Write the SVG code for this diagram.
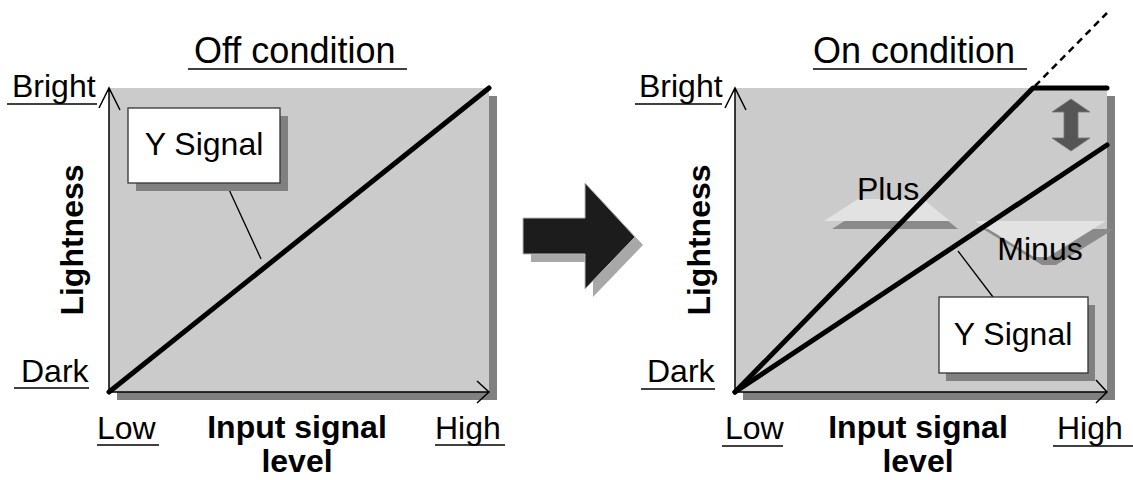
<svg xmlns="http://www.w3.org/2000/svg" width="1133" height="480" viewBox="0 0 1133 480">
<style>
text{font-family:"Liberation Sans",Arial,Helvetica,sans-serif;fill:#000}
.t{font-size:32px}
.ttl{font-size:36px}
.b{font-size:32px;font-weight:bold}
.ul{stroke:#000;stroke-width:1.3;fill:none}
.panel{fill:#cbcbcb}
.pshadow{fill:#808080}
.axis{stroke:#000;stroke-width:1.5;fill:none}
.thick{stroke:#000;stroke-width:5;fill:none;stroke-linecap:round;stroke-linejoin:round}
.lead{stroke:#000;stroke-width:1.3;fill:none}
.box{fill:#fff;stroke:#333;stroke-width:1.3}
.bshadow{fill:#808080}
.light{fill:#e2e2e2}
.dshadow{fill:#8a8a8a}
</style>
<rect width="1133" height="480" fill="#fff"/>

<!-- Left chart -->
<g id="left-chart">
  <rect class="pshadow" x="117" y="96" width="380" height="304"/>
  <rect class="panel" x="109" y="88" width="380" height="304"/>
  <path class="axis" d="M109,392 V89 M99,108 L109,88 L120,110 M109,392 H489 M477,381 L489,392 L477,403"/>
</g>
<g id="left-labels">
  <text class="ttl" x="194" y="63">Off condition</text>
  <line class="ul" x1="188" y1="69" x2="407" y2="69"/>
  <text class="t" x="12" y="97">Bright</text>
  <line class="ul" x1="7" y1="104" x2="97" y2="104"/>
  <text class="t" x="21" y="382">Dark</text>
  <line class="ul" x1="14" y1="388" x2="89" y2="388"/>
  <text class="t" x="97" y="439">Low</text>
  <line class="ul" x1="97" y1="445" x2="159" y2="445"/>
  <text class="t" x="435" y="439">High</text>
  <line class="ul" x1="435" y1="445" x2="505" y2="445"/>
  <text class="b" x="297" y="438" text-anchor="middle">Input signal</text>
  <text class="b" x="297" y="472" text-anchor="middle">level</text>
  <text class="b" transform="translate(83,240) rotate(-90)" text-anchor="middle">Lightness</text>
</g>

<!-- Middle arrow -->
<g id="transition-arrow">
  <polygon points="531,226 593,226 593,191 643,245 593,297 593,262 531,262" fill="#a8a8a8"/>
  <polygon points="523,218 585,218 585,183 635,237 585,289 585,254 523,254" fill="#1c1c1c" stroke="#b8b8b8" stroke-width="1"/>
</g>

<!-- Right chart -->
<g id="right-chart">
  <rect class="pshadow" x="743" y="96" width="372" height="304"/>
  <rect class="panel" x="735" y="88" width="372" height="304"/>
  <path class="axis" d="M735,392 V89 M725,108 L735,88 L746,110 M735,392 H1107 M1096,380 L1107,392 L1096,403"/>
</g>
<g id="right-labels">
  <text class="ttl" x="813" y="63">On condition</text>
  <line class="ul" x1="813" y1="69" x2="1027" y2="69"/>
  <text class="t" x="639" y="97">Bright</text>
  <line class="ul" x1="635" y1="104" x2="722" y2="104"/>
  <text class="t" x="647" y="382">Dark</text>
  <line class="ul" x1="641" y1="389" x2="715" y2="389"/>
  <text class="t" x="725" y="439">Low</text>
  <line class="ul" x1="722" y1="446" x2="783" y2="446"/>
  <text class="t" x="1057" y="439">High</text>
  <line class="ul" x1="1053" y1="446" x2="1133" y2="446"/>
  <text class="b" x="918" y="438" text-anchor="middle">Input signal</text>
  <text class="b" x="918" y="472" text-anchor="middle">level</text>
  <text class="b" transform="translate(710,240) rotate(-90)" text-anchor="middle">Lightness</text>
</g>

<!-- Plus / Minus markers -->
<g id="plus-marker">
  <polygon class="dshadow" points="866,207 931,207 958,229 832,229"/>
  <polygon class="light" points="858,199 923,199 950,221 824,221"/>
</g>
<g id="minus-marker">
  <polygon class="dshadow" points="983,229 1114,229 1056,265 1042,265"/>
  <polygon class="light" points="975,221 1106,221 1048,257 1034,257"/>
</g>

<!-- Curves / connectors -->
<g id="connectors">
  <line class="thick" x1="109" y1="392" x2="489" y2="88"/>
  <polyline class="thick" points="735,392 1033,88 1107,88"/>
  <line class="thick" x1="735" y1="392" x2="1107" y2="145"/>
  <line x1="1035" y1="86" x2="1107" y2="13" stroke="#000" stroke-width="2.5" stroke-dasharray="7,5"/>
  <line class="lead" x1="226" y1="183" x2="261" y2="259"/>
  <line class="lead" x1="958" y1="251" x2="993" y2="297"/>
</g>

<g id="plus-label"><text class="t" x="888" y="200" text-anchor="middle">Plus</text></g>
<g id="minus-label"><text class="t" x="1040" y="260" text-anchor="middle">Minus</text></g>

<!-- Double arrow -->
<g id="gap-arrow">
  <polygon points="1071,99 1090,112 1078,112 1078,138 1090,138 1071,151 1052,138 1064,138 1064,112 1052,112" fill="#555" stroke="#777" stroke-width="0.8"/>
</g>

<!-- Y Signal boxes -->
<g id="ysignal-left">
  <rect class="bshadow" x="136" y="116" width="152" height="75"/>
  <rect class="box" x="128" y="108" width="152" height="75"/>
  <text class="t" x="204" y="155" text-anchor="middle">Y Signal</text>
</g>
<g id="ysignal-right">
  <rect class="bshadow" x="946" y="305" width="149" height="76"/>
  <rect class="box" x="939" y="297" width="149" height="76"/>
  <text class="t" x="1013" y="345" text-anchor="middle">Y Signal</text>
</g>
</svg>
